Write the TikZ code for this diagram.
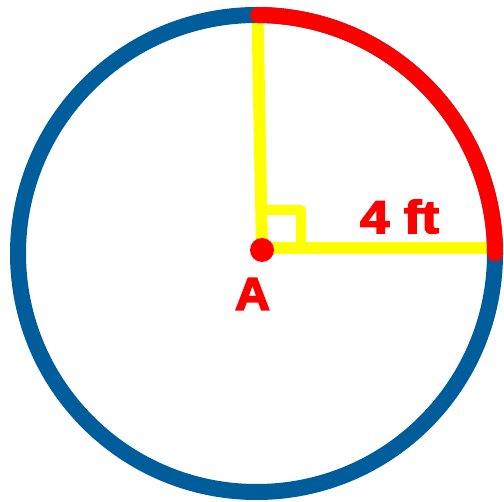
\documentclass[tikz,border=0pt]{standalone}
\usepackage{fontspec}
\newfontfamily\heavy{Liberation Sans Bold}[FakeBold=3.5]
\definecolor{ringblue}{RGB}{0,93,155}
\definecolor{arcred}{RGB}{255,0,0}
\definecolor{radyellow}{RGB}{255,255,0}
\tikzset{
  ring/.style={draw=ringblue, line width=16pt},
  arcpart/.style={draw=arcred, line width=16pt, line cap=round},
  radius line/.style={draw=radyellow, line width=12pt},
  rightmark/.style={draw=radyellow, line width=10pt, line join=round},
  lbl/.style={text=arcred, inner sep=0pt, font=\heavy\fontsize{46}{46}\selectfont}
}
\begin{document}
\begin{tikzpicture}[x=1pt, y=-1pt]
\useasboundingbox (0,0) rectangle (504,502);
\coordinate (C) at (256.5,253.5);
\coordinate (O) at (262,250);
\coordinate (T) at (257.5,14);
\coordinate (R) at (490,248.5);
\coordinate (Oh) at (262,248.5);
\coordinate (M1) at (259,210);
\coordinate (M2) at (301,210);
\coordinate (M3) at (301,248.5);
\coordinate (S) at (495,253.5);
% radii
\draw[radius line] (O) -- (T);
\draw[radius line] (Oh) -- (R);
\draw[rightmark] (M1) -- (M2) -- (M3);
% circle
\draw[ring] (C) circle[radius=238.5];
% arc
\draw[arcpart] (S) arc[start angle=0, end angle=-89.6, radius=238.5];
% centre dot
\node[circle, fill=arcred, minimum size=24pt, inner sep=0pt] (dot) at (O) {};
\node[lbl] (A) at (252.5,294) {\scalebox{1.05}[1]{A}};
\node[lbl] (len) at (399.5,216.5) {\scalebox{1.14}[1]{4 ft}};
\end{tikzpicture}
\end{document}
